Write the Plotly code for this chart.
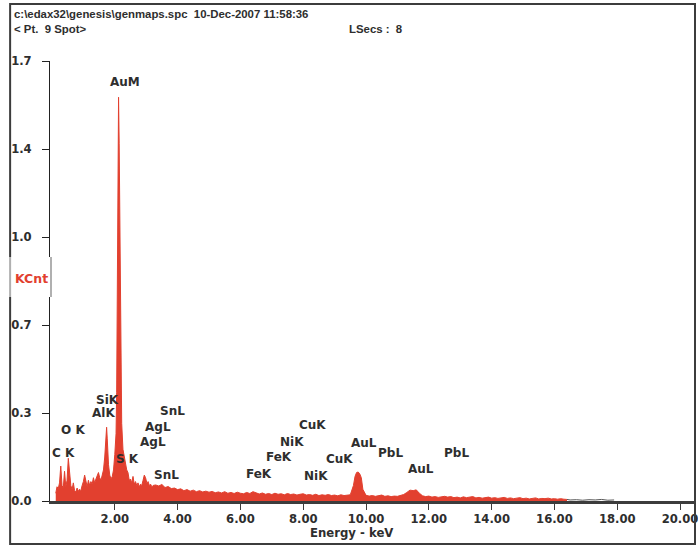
import plotly.graph_objects as go

# ---------------- data ----------------
energy_kev = [
    0.12, 0.16, 0.20, 0.24, 0.28, 0.32, 0.36, 0.40, 0.44, 0.48,
    0.52, 0.56, 0.60, 0.64, 0.68, 0.72, 0.76, 0.80, 0.84, 0.88,
    0.92, 0.96, 1.00, 1.04, 1.08, 1.12, 1.16, 1.20, 1.24, 1.28,
    1.32, 1.36, 1.40, 1.44, 1.48, 1.52, 1.56, 1.60, 1.64, 1.68,
    1.72, 1.74, 1.76, 1.80, 1.84, 1.88, 1.92, 1.96, 2.00, 2.04,
    2.06, 2.08, 2.10, 2.12, 2.14, 2.16, 2.18, 2.20, 2.22, 2.26,
    2.30, 2.34, 2.38, 2.42, 2.46, 2.50, 2.54, 2.58, 2.62, 2.66,
    2.70, 2.74, 2.78, 2.82, 2.86, 2.90, 2.94, 2.98, 3.02, 3.06,
    3.10, 3.14, 3.18, 3.22,
    3.3, 3.4, 3.5, 3.6, 3.7, 3.8, 3.9, 4.0, 4.1, 4.2,
    4.3, 4.4, 4.5, 4.6, 4.7, 4.8, 4.9, 5.0, 5.1, 5.2,
    5.3, 5.4, 5.5, 5.6, 5.7, 5.8, 5.9, 6.0, 6.1, 6.2,
    6.3, 6.4, 6.5, 6.6, 6.7, 6.8, 6.9, 7.0, 7.1, 7.2,
    7.3, 7.4, 7.5, 7.6, 7.7, 7.8, 7.9, 8.0, 8.1, 8.2,
    8.3, 8.4, 8.5, 8.6, 8.7, 8.8, 8.9, 9.0, 9.1, 9.2,
    9.3, 9.4, 9.5, 9.6, 9.65, 9.7, 9.75, 9.8, 9.85, 9.9,
    10.0, 10.1, 10.2, 10.3, 10.4, 10.5, 10.6, 10.7, 10.8, 10.9,
    11.0, 11.1, 11.2, 11.3, 11.4, 11.5, 11.6, 11.7, 11.8, 11.9,
    12.0, 12.1, 12.2, 12.3, 12.4, 12.5, 12.6, 12.7, 12.8, 12.9,
    13.0, 13.1, 13.2, 13.3, 13.4, 13.5, 13.6, 13.7, 13.8, 13.9,
    14.0, 14.1, 14.2, 14.3, 14.4, 14.5, 14.6, 14.7, 14.8, 14.9,
    15.0, 15.1, 15.2, 15.3, 15.4, 15.5, 15.6, 15.7, 15.8, 15.9,
    16.0, 16.1, 16.2, 16.3, 16.4,
]
counts_kcnt = [
    0.030, 0.055, 0.048, 0.070, 0.135, 0.060, 0.050, 0.115, 0.055, 0.080,
    0.165, 0.110, 0.060, 0.045, 0.070, 0.040, 0.035, 0.050, 0.038, 0.045,
    0.040, 0.060, 0.075, 0.100, 0.070, 0.055, 0.080, 0.060, 0.075, 0.065,
    0.090, 0.070, 0.085, 0.095, 0.110, 0.090, 0.080, 0.100, 0.120, 0.170,
    0.250, 0.285, 0.240, 0.140, 0.100, 0.085, 0.095, 0.120, 0.180, 0.260,
    0.420, 0.780, 1.200, 1.560, 1.380, 1.000, 0.760, 0.450, 0.300, 0.200,
    0.170, 0.140, 0.120, 0.110, 0.080, 0.085, 0.070, 0.095, 0.065, 0.075,
    0.060, 0.070, 0.055, 0.065, 0.060, 0.080, 0.100, 0.090, 0.070, 0.075,
    0.060, 0.065, 0.055, 0.060,
    0.062, 0.058, 0.064, 0.052, 0.056, 0.048, 0.050, 0.044, 0.047, 0.040,
    0.044, 0.038, 0.042, 0.036, 0.040, 0.035, 0.038, 0.034, 0.037, 0.032,
    0.035, 0.031, 0.036, 0.030, 0.033, 0.029, 0.034, 0.030, 0.028, 0.033,
    0.029, 0.036, 0.030, 0.027, 0.031, 0.026, 0.029, 0.025, 0.030, 0.026,
    0.028, 0.024, 0.029, 0.025, 0.027, 0.023, 0.026, 0.028, 0.023, 0.025,
    0.022, 0.026, 0.021, 0.024, 0.022, 0.025, 0.021, 0.023, 0.020, 0.024,
    0.021, 0.022, 0.024, 0.060, 0.095, 0.110, 0.112, 0.105, 0.090, 0.045,
    0.022, 0.019, 0.021, 0.018, 0.020, 0.023, 0.018, 0.020, 0.017, 0.019,
    0.018, 0.021, 0.025, 0.033, 0.042, 0.040, 0.043, 0.030, 0.020, 0.017,
    0.019, 0.015, 0.017, 0.014, 0.016, 0.018, 0.015, 0.017, 0.013, 0.015,
    0.012, 0.016, 0.013, 0.014, 0.017, 0.012, 0.014, 0.011, 0.013, 0.015,
    0.011, 0.013, 0.010, 0.012, 0.014, 0.010, 0.012, 0.009, 0.011, 0.013,
    0.009, 0.011, 0.008, 0.010, 0.012, 0.008, 0.010, 0.009, 0.011, 0.008,
    0.009, 0.007, 0.009, 0.007, 0.006,
]
tail_kev = [16.4, 16.5, 16.7, 16.9, 17.1, 17.3, 17.5, 17.7, 17.9]
tail_kcnt = [0.006, 0.004, 0.005, 0.003, 0.005, 0.004, 0.006, 0.003, 0.004]

x_tick_vals = [2, 4, 6, 8, 10, 12, 14, 16, 18, 20]
x_tick_text = ["2.00", "4.00", "6.00", "8.00", "10.00", "12.00", "14.00", "16.00", "18.00", "20.00"]
y_tick_vals = [0.0, 0.34, 0.68, 1.02, 1.36, 1.70]
y_tick_text = ["0.0", "0.3", "0.7", "1.0", "1.4", "1.7"]

peak_labels = ["AuM", "SiK", "AlK", "O K", "C K", "S K", "SnL", "AgL", "AgL", "SnL",
               "FeK", "FeK", "NiK", "CuK", "NiK", "CuK", "AuL", "PbL", "AuL", "PbL"]
label_kev = [2.32, 1.78, 1.65, 0.67, 0.38, 2.41, 3.84, 3.37, 3.21, 3.65,
             6.60, 7.24, 7.65, 8.29, 8.41, 9.14, 9.94, 10.79, 11.75, 12.89]
label_kcnt = [1.620, 0.390, 0.340, 0.274, 0.185, 0.162, 0.348, 0.286, 0.228, 0.100,
              0.104, 0.170, 0.228, 0.294, 0.097, 0.162, 0.224, 0.185, 0.124, 0.185]

header_line1 = "c:\\edax32\\genesis\\genmaps.spc  10-Dec-2007 11:58:36"
header_line2 = "< Pt.  9 Spot>"
header_lsecs = "LSecs :  8"

# ---------------- figure ----------------
RED = "#e2402f"
TXT = "#2e2e2e"
HFONT = "Liberation Sans, Arial, sans-serif"
LFONT = "DejaVu Sans, Verdana, sans-serif"

fig = go.Figure()
fig.add_trace(go.Scatter(
    x=energy_kev, y=counts_kcnt, mode="lines",
    line=dict(color=RED, width=1), fill="tozeroy", fillcolor=RED,
    hoverinfo="x+y", showlegend=False,
))
fig.add_trace(go.Scatter(
    x=tail_kev, y=tail_kcnt, mode="lines",
    line=dict(color="#555555", width=1), showlegend=False,
))

annotations = []
for t, xv, yv in zip(peak_labels, label_kev, label_kcnt):
    annotations.append(dict(
        x=xv, y=yv, xref="x", yref="y", text="<b>" + t + "</b>", showarrow=False,
        font=dict(family=LFONT, size=12, color=TXT), xanchor="center", yanchor="middle",
    ))

def px_x(px):
    return (px - 50) / 648.0

def px_y(py):
    return (501 - py) / 440.0

annotations += [
    dict(x=px_x(12), y=px_y(14), xref="paper", yref="paper", text="<b>" + header_line1 + "</b>",
         showarrow=False, xanchor="left", yanchor="middle",
         font=dict(family=HFONT, size=11.4, color=TXT)),
    dict(x=px_x(12), y=px_y(29), xref="paper", yref="paper", text="<b>" + header_line2 + "</b>",
         showarrow=False, xanchor="left", yanchor="middle",
         font=dict(family=HFONT, size=11.4, color=TXT)),
    dict(x=px_x(348), y=px_y(29), xref="paper", yref="paper", text="<b>" + header_lsecs + "</b>",
         showarrow=False, xanchor="left", yanchor="middle",
         font=dict(family=HFONT, size=11.4, color=TXT)),
    dict(x=px_x(31.5), y=px_y(278), xref="paper", yref="paper", text="<b>KCnt</b>",
         showarrow=False, xanchor="center", yanchor="middle",
         font=dict(family=LFONT, size=12.5, color=RED)),
    dict(x=px_x(352), y=px_y(532.5), xref="paper", yref="paper", text="<b>Energy - keV</b>",
         showarrow=False, xanchor="center", yanchor="middle",
         font=dict(family=LFONT, size=11.7, color=TXT)),
]

shapes = [
    # outer frame
    dict(type="rect", xref="paper", yref="paper",
         x0=px_x(10), x1=px_x(697), y0=px_y(544), y1=px_y(4),
         line=dict(color="#3c3c3c", width=2), fillcolor="rgba(0,0,0,0)", layer="above"),
    # KCnt box
    dict(type="rect", xref="paper", yref="paper",
         x0=px_x(9), x1=px_x(51.5), y0=px_y(297), y1=px_y(257),
         line=dict(width=0), fillcolor="white", layer="above"),
    dict(type="line", xref="paper", yref="paper",
         x0=px_x(10), x1=px_x(10), y0=px_y(297), y1=px_y(257),
         line=dict(color="#b0b0b0", width=2), layer="above"),
    dict(type="line", xref="paper", yref="paper",
         x0=px_x(51), x1=px_x(51), y0=px_y(297), y1=px_y(257),
         line=dict(color="#b0b0b0", width=2), layer="above"),
]

fig.update_layout(
    width=698, height=547,
    margin=dict(l=50, r=0, t=61, b=46, pad=0),
    paper_bgcolor="white", plot_bgcolor="white",
    showlegend=False,
    annotations=annotations,
    shapes=shapes,
    font=dict(family=LFONT, color=TXT),
)
fig.update_xaxes(
    range=[-0.063, 20.508], tickvals=x_tick_vals, ticktext=x_tick_text,
    showgrid=False, zeroline=False, showline=True, linecolor="#3c3c3c", linewidth=3,
    ticks="outside", ticklen=6, tickwidth=1, tickcolor="#3c3c3c",
    tickfont=dict(family=LFONT, size=11.6, color=TXT, weight="bold"),
    ticklabeloverflow="allow", ticklabelstandoff=-1,
    layer="below traces",
)
fig.update_yaxes(
    range=[0, 1.7], tickvals=y_tick_vals, ticktext=y_tick_text,
    showgrid=False, zeroline=False, showline=True, linecolor="#222222", linewidth=1,
    ticks="outside", ticklen=7, tickwidth=1, tickcolor="#222222",
    tickfont=dict(family=LFONT, size=11.6, color=TXT, weight="bold"),
    ticklabelstandoff=8,
)

fig.write_html(
    "out.html",
    config={"displayModeBar": False},
    post_script="document.body.style.margin='0';document.body.style.overflow='hidden';",
)
